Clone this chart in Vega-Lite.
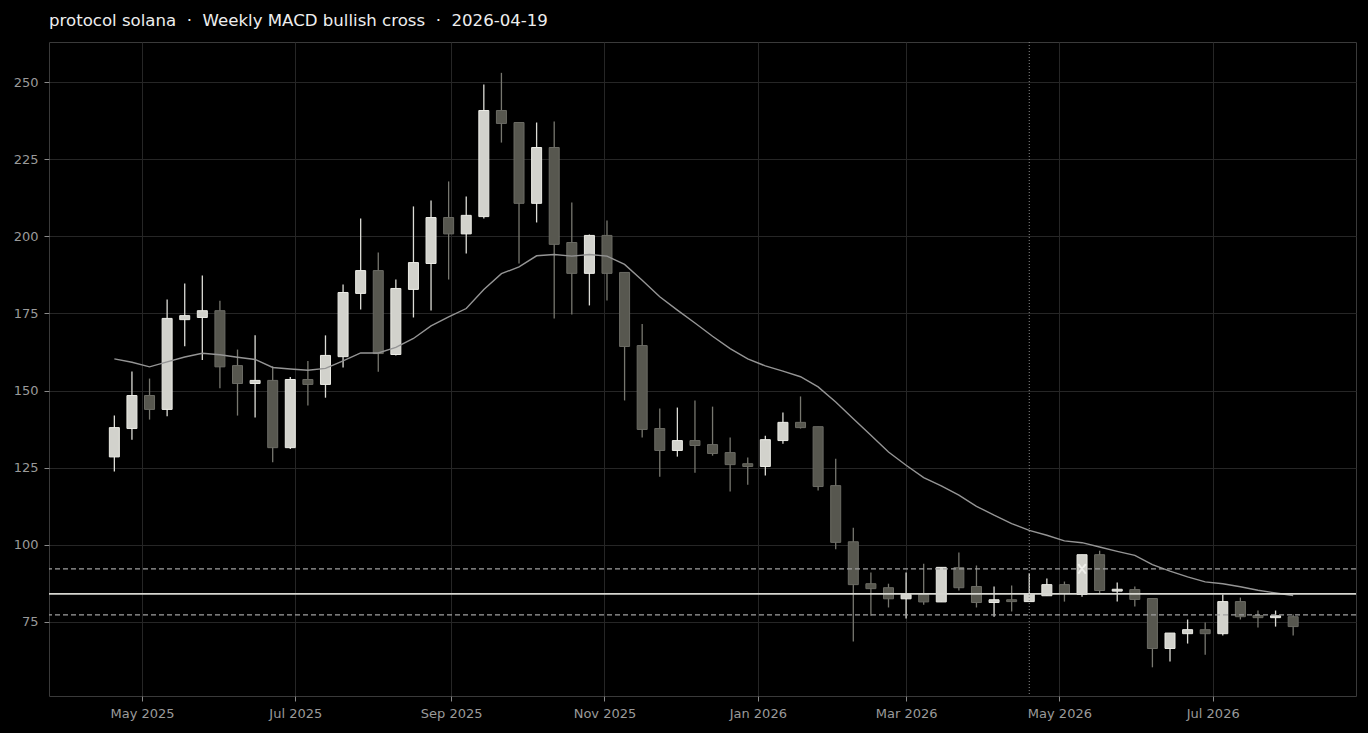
{
  "$schema": "https://vega.github.io/schema/vega-lite/v6.json",
  "width": 1307,
  "height": 654,
  "autosize": {"type": "none"},
  "padding": {"left": 49, "top": 42, "right": 12, "bottom": 37},
  "background": "#000000",
  "title": {
    "text": "protocol solana\u00a0\u00a0·\u00a0\u00a0Weekly MACD bullish cross\u00a0\u00a0·\u00a0\u00a02026-04-19",
    "anchor": "start",
    "frame": "group",
    "color": "#eeeeee",
    "font": "DejaVu Sans",
    "fontSize": 16.6,
    "fontWeight": "normal",
    "offset": 12
  },
  "config": {
    "view": {"stroke": "#3a3a3a", "strokeWidth": 1},
    "axis": {
      "gridColor": "#262626",
      "gridWidth": 1,
      "domainColor": "#3a3a3a",
      "tickColor": "#8a8a8a",
      "tickSize": 5,
      "labelColor": "#9a9a9a",
      "labelFont": "DejaVu Sans",
      "labelFontSize": 13,
      "zindex": 1
    }
  },
  "datasets": {
    "candles": [
      {"date": "2025-04-20", "open": 128.5, "high": 141.9, "low": 123.8, "close": 138.0, "dir": "up", "ma": 160.3},
      {"date": "2025-04-27", "open": 137.7, "high": 156.2, "low": 134.1, "close": 148.4, "dir": "up", "ma": 159.2},
      {"date": "2025-05-04", "open": 148.4, "high": 153.9, "low": 140.6, "close": 143.9, "dir": "down", "ma": 157.7},
      {"date": "2025-05-11", "open": 143.9, "high": 179.5, "low": 141.7, "close": 173.4, "dir": "up", "ma": 159.3},
      {"date": "2025-05-18", "open": 173.0, "high": 184.7, "low": 164.4, "close": 174.3, "dir": "up", "ma": 160.9},
      {"date": "2025-05-25", "open": 173.7, "high": 187.3, "low": 159.9, "close": 175.9, "dir": "up", "ma": 162.1},
      {"date": "2025-06-01", "open": 175.9, "high": 179.1, "low": 150.8, "close": 157.7, "dir": "down", "ma": 161.6},
      {"date": "2025-06-08", "open": 158.1, "high": 163.3, "low": 141.9, "close": 152.3, "dir": "down", "ma": 160.8},
      {"date": "2025-06-15", "open": 152.3, "high": 167.9, "low": 141.3, "close": 153.3, "dir": "up", "ma": 160.1},
      {"date": "2025-06-22", "open": 153.3, "high": 157.9, "low": 126.8, "close": 131.5, "dir": "down", "ma": 157.5},
      {"date": "2025-06-29", "open": 131.5, "high": 154.4, "low": 131.1, "close": 153.6, "dir": "up", "ma": 157.0},
      {"date": "2025-07-06", "open": 153.6, "high": 159.6, "low": 145.2, "close": 152.0, "dir": "down", "ma": 156.6},
      {"date": "2025-07-13", "open": 152.0, "high": 167.9, "low": 147.7, "close": 161.4, "dir": "up", "ma": 157.2},
      {"date": "2025-07-20", "open": 161.0, "high": 184.4, "low": 157.5, "close": 181.8, "dir": "up", "ma": 159.6},
      {"date": "2025-07-27", "open": 181.5, "high": 205.8, "low": 176.3, "close": 188.9, "dir": "up", "ma": 162.2},
      {"date": "2025-08-03", "open": 188.9, "high": 194.8, "low": 156.1, "close": 162.0, "dir": "down", "ma": 162.2},
      {"date": "2025-08-10", "open": 161.7, "high": 186.0, "low": 161.4, "close": 183.1, "dir": "up", "ma": 164.0},
      {"date": "2025-08-17", "open": 182.8, "high": 209.7, "low": 173.7, "close": 191.5, "dir": "up", "ma": 166.9},
      {"date": "2025-08-24", "open": 191.2, "high": 211.6, "low": 176.0, "close": 206.1, "dir": "up", "ma": 171.0},
      {"date": "2025-08-31", "open": 206.1, "high": 217.8, "low": 186.0, "close": 200.8, "dir": "down", "ma": 173.9},
      {"date": "2025-09-07", "open": 200.8, "high": 212.9, "low": 194.4, "close": 206.8, "dir": "up", "ma": 176.6},
      {"date": "2025-09-14", "open": 206.4, "high": 249.2, "low": 205.8, "close": 240.8, "dir": "up", "ma": 182.8},
      {"date": "2025-09-21", "open": 240.8, "high": 253.0, "low": 230.4, "close": 236.6, "dir": "down", "ma": 187.9},
      {"date": "2025-09-28", "open": 236.9, "high": 236.9, "low": 191.2, "close": 210.7, "dir": "down", "ma": 190.1},
      {"date": "2025-10-05", "open": 210.7, "high": 236.9, "low": 204.5, "close": 228.8, "dir": "up", "ma": 193.7},
      {"date": "2025-10-12", "open": 228.8, "high": 237.2, "low": 173.4, "close": 197.4, "dir": "down", "ma": 194.1},
      {"date": "2025-10-19", "open": 198.0, "high": 211.0, "low": 174.7, "close": 188.0, "dir": "down", "ma": 193.6},
      {"date": "2025-10-26", "open": 188.0, "high": 200.6, "low": 177.6, "close": 200.3, "dir": "up", "ma": 194.1},
      {"date": "2025-11-02", "open": 200.3, "high": 205.1, "low": 179.2, "close": 188.0, "dir": "down", "ma": 193.6},
      {"date": "2025-11-09", "open": 188.3, "high": 188.3, "low": 146.8, "close": 164.3, "dir": "down", "ma": 190.9},
      {"date": "2025-11-16", "open": 164.6, "high": 171.6, "low": 134.8, "close": 137.4, "dir": "down", "ma": 185.8},
      {"date": "2025-11-23", "open": 137.7, "high": 144.2, "low": 122.1, "close": 130.6, "dir": "down", "ma": 180.4},
      {"date": "2025-11-30", "open": 130.6, "high": 144.5, "low": 128.6, "close": 133.8, "dir": "up", "ma": 176.1},
      {"date": "2025-12-07", "open": 133.8, "high": 146.8, "low": 123.4, "close": 132.2, "dir": "down", "ma": 171.9},
      {"date": "2025-12-14", "open": 132.5, "high": 144.8, "low": 128.9, "close": 129.6, "dir": "down", "ma": 167.6},
      {"date": "2025-12-21", "open": 129.9, "high": 134.8, "low": 117.3, "close": 126.0, "dir": "down", "ma": 163.6},
      {"date": "2025-12-28", "open": 126.3, "high": 128.3, "low": 119.5, "close": 125.4, "dir": "down", "ma": 160.3},
      {"date": "2026-01-04", "open": 125.4, "high": 135.4, "low": 122.5, "close": 134.1, "dir": "up", "ma": 158.0},
      {"date": "2026-01-11", "open": 133.8, "high": 142.9, "low": 132.8, "close": 139.7, "dir": "up", "ma": 156.3},
      {"date": "2026-01-18", "open": 139.7, "high": 148.1, "low": 137.7, "close": 138.0, "dir": "down", "ma": 154.5},
      {"date": "2026-01-25", "open": 138.3, "high": 138.3, "low": 117.6, "close": 118.9, "dir": "down", "ma": 151.2},
      {"date": "2026-02-01", "open": 119.2, "high": 127.9, "low": 98.6, "close": 100.8, "dir": "down", "ma": 146.3},
      {"date": "2026-02-08", "open": 101.0, "high": 105.5, "low": 68.7, "close": 87.1, "dir": "down", "ma": 140.9},
      {"date": "2026-02-15", "open": 87.4, "high": 91.0, "low": 77.0, "close": 85.8, "dir": "down", "ma": 135.5},
      {"date": "2026-02-22", "open": 86.1, "high": 87.4, "low": 79.7, "close": 82.5, "dir": "down", "ma": 130.1},
      {"date": "2026-03-01", "open": 82.5, "high": 91.0, "low": 76.1, "close": 83.9, "dir": "up", "ma": 125.8},
      {"date": "2026-03-08", "open": 83.9, "high": 93.9, "low": 80.6, "close": 81.5, "dir": "down", "ma": 121.8},
      {"date": "2026-03-15", "open": 81.5, "high": 92.7, "low": 81.5, "close": 92.7, "dir": "up", "ma": 119.1},
      {"date": "2026-03-22", "open": 92.6, "high": 97.5, "low": 85.2, "close": 86.1, "dir": "down", "ma": 116.1},
      {"date": "2026-03-29", "open": 86.5, "high": 93.3, "low": 79.7, "close": 81.3, "dir": "down", "ma": 112.5},
      {"date": "2026-04-05", "open": 81.3, "high": 86.5, "low": 76.7, "close": 82.2, "dir": "up", "ma": 109.6},
      {"date": "2026-04-12", "open": 82.2, "high": 86.8, "low": 78.4, "close": 81.6, "dir": "down", "ma": 106.9},
      {"date": "2026-04-19", "open": 81.6, "high": 90.7, "low": 81.6, "close": 84.2, "dir": "up", "ma": 104.7},
      {"date": "2026-04-26", "open": 83.5, "high": 89.1, "low": 83.5, "close": 87.1, "dir": "up", "ma": 103.1},
      {"date": "2026-05-03", "open": 87.1, "high": 88.1, "low": 81.6, "close": 84.2, "dir": "down", "ma": 101.3},
      {"date": "2026-05-10", "open": 83.9, "high": 96.8, "low": 83.2, "close": 96.8, "dir": "up", "ma": 100.7},
      {"date": "2026-05-17", "open": 96.8, "high": 98.1, "low": 84.2, "close": 85.2, "dir": "down", "ma": 99.3},
      {"date": "2026-05-24", "open": 85.0, "high": 87.8, "low": 81.6, "close": 85.6, "dir": "up", "ma": 97.9},
      {"date": "2026-05-31", "open": 85.5, "high": 86.5, "low": 80.0, "close": 82.3, "dir": "down", "ma": 96.6},
      {"date": "2026-06-07", "open": 82.6, "high": 82.6, "low": 60.3, "close": 66.4, "dir": "down", "ma": 93.6},
      {"date": "2026-06-14", "open": 66.4, "high": 71.4, "low": 62.2, "close": 71.4, "dir": "up", "ma": 91.5},
      {"date": "2026-06-21", "open": 71.2, "high": 75.8, "low": 68.0, "close": 72.5, "dir": "up", "ma": 89.6},
      {"date": "2026-06-28", "open": 72.5, "high": 74.8, "low": 64.4, "close": 71.2, "dir": "down", "ma": 88.0},
      {"date": "2026-07-05", "open": 71.2, "high": 83.9, "low": 70.6, "close": 81.6, "dir": "up", "ma": 87.4},
      {"date": "2026-07-12", "open": 81.6, "high": 82.9, "low": 75.8, "close": 76.7, "dir": "down", "ma": 86.4},
      {"date": "2026-07-19", "open": 77.1, "high": 78.7, "low": 73.2, "close": 76.4, "dir": "down", "ma": 85.3},
      {"date": "2026-07-26", "open": 76.4, "high": 78.7, "low": 73.5, "close": 77.0, "dir": "up", "ma": 84.4},
      {"date": "2026-08-02", "open": 76.7, "high": 77.4, "low": 70.6, "close": 73.5, "dir": "down", "ma": 83.6}
    ],
    "solidLevel": [{"value": 84.1}],
    "dashLevels": [{"value": 92.2}, {"value": 77.3}],
    "event": [{"date": "2026-04-19"}],
    "marker": [{"date": "2026-05-10", "value": 92.2}]
  },
  "layer": [
    {
      "data": {"name": "candles"},
      "mark": {"type": "rule", "strokeWidth": 1.3},
      "encoding": {
        "x": {
          "field": "date",
          "type": "temporal",
          "title": null,
          "scale": {"domain": [{"year": 2025, "month": 3, "date": 25}, {"year": 2026, "month": 8, "date": 27}], "nice": false, "padding": 0},
          "axis": {
            "values": [
              {"year": 2025, "month": 5, "date": 1},
              {"year": 2025, "month": 7, "date": 1},
              {"year": 2025, "month": 9, "date": 1},
              {"year": 2025, "month": 11, "date": 1},
              {"year": 2026, "month": 1, "date": 1},
              {"year": 2026, "month": 3, "date": 1},
              {"year": 2026, "month": 5, "date": 1},
              {"year": 2026, "month": 7, "date": 1}
            ],
            "format": "%b %Y",
            "labelPadding": 6,
            "domain": false
          }
        },
        "y": {
          "field": "low",
          "type": "quantitative",
          "title": null,
          "scale": {"domain": [51, 263], "nice": false, "zero": false, "padding": 0},
          "axis": {"values": [75, 100, 125, 150, 175, 200, 225, 250], "labelPadding": 6, "domain": false}
        },
        "y2": {"field": "high"},
        "color": {
          "field": "dir",
          "type": "nominal",
          "scale": {"domain": ["up", "down"], "range": ["#dcdcd6", "#77776f"]},
          "legend": null
        }
      }
    },
    {
      "data": {"name": "candles"},
      "mark": {"type": "bar", "size": 10, "strokeWidth": 1},
      "encoding": {
        "x": {"field": "date", "type": "temporal", "title": null},
        "y": {"field": "open", "type": "quantitative", "title": null},
        "y2": {"field": "close"},
        "fill": {
          "field": "dir",
          "type": "nominal",
          "scale": {"domain": ["up", "down"], "range": ["#d2d2cc", "#57574f"]},
          "legend": null
        },
        "stroke": {
          "field": "dir",
          "type": "nominal",
          "scale": {"domain": ["up", "down"], "range": ["#ececE6", "#6b6b64"]},
          "legend": null
        }
      }
    },
    {
      "data": {"name": "candles"},
      "mark": {"type": "line", "color": "#959595", "strokeWidth": 1.4},
      "encoding": {
        "x": {"field": "date", "type": "temporal", "title": null},
        "y": {"field": "ma", "type": "quantitative", "title": null}
      }
    },
    {
      "data": {"name": "solidLevel"},
      "mark": {"type": "rule", "color": "#d6d6d0", "strokeWidth": 1.6},
      "encoding": {"y": {"field": "value", "type": "quantitative", "title": null}}
    },
    {
      "data": {"name": "dashLevels"},
      "mark": {"type": "rule", "color": "#a0a0a0", "strokeWidth": 1.3, "strokeDash": [5, 3]},
      "encoding": {"y": {"field": "value", "type": "quantitative", "title": null}}
    },
    {
      "data": {"name": "event"},
      "mark": {"type": "rule", "color": "#8a8a8a", "strokeWidth": 1, "strokeDash": [1, 2]},
      "encoding": {"x": {"field": "date", "type": "temporal", "title": null}}
    },
    {
      "data": {"name": "marker"},
      "mark": {"type": "point", "shape": "M-0.8,-1L0.8,1M-0.8,1L0.8,-1", "filled": false, "size": 90, "strokeWidth": 2, "color": "#f4f4f0", "opacity": 0.9},
      "encoding": {
        "x": {"field": "date", "type": "temporal", "title": null},
        "y": {"field": "value", "type": "quantitative", "title": null}
      }
    }
  ]
}
